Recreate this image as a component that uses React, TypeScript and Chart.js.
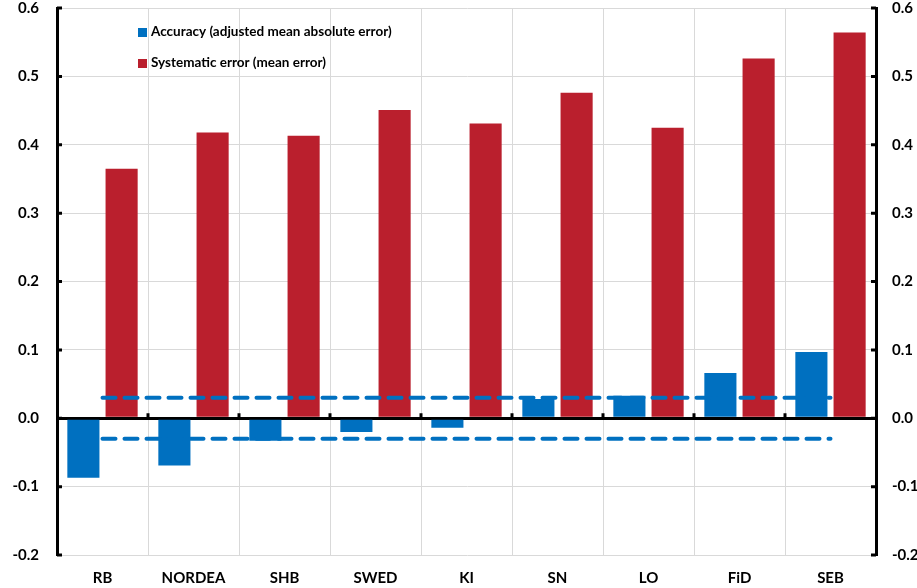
import { useEffect, useRef } from "react";
import { Chart, registerables } from "chart.js";
import type { ChartConfiguration, Plugin } from "chart.js";

Chart.register(...registerables);

const BANKS = ["RB", "NORDEA", "SHB", "SWED", "KI", "SN", "LO", "FiD", "SEB"];
const ACCURACY = [-0.087, -0.069, -0.033, -0.02, -0.014, 0.028, 0.033, 0.066, 0.097];
const SYSTEMATIC = [0.365, 0.418, 0.413, 0.451, 0.431, 0.476, 0.425, 0.526, 0.564];
const BAND_UPPER = [0.03, 0.03, 0.03, 0.03, 0.03, 0.03, 0.03, 0.03, 0.03];
const BAND_LOWER = [-0.03, -0.03, -0.03, -0.03, -0.03, -0.03, -0.03, -0.03, -0.03];
const Y_MIN = -0.2;
const Y_MAX = 0.6;

const BLUE = "#0070c0";
const RED = "#ba1f2d";
const FONT = "Lato, 'Open Sans', sans-serif";

// inward tick marks on both value axes and small ticks on the zero line
const axisTicks: Plugin = {
  id: "axisTicks",
  afterDraw(chart) {
    const { ctx, chartArea, scales } = chart;
    const y = scales.y;
    const x = scales.x;
    ctx.save();
    ctx.strokeStyle = "#000";
    ctx.lineWidth = 3;
    ctx.beginPath();
    y.ticks.forEach((t) => {
      const py = y.getPixelForValue(t.value);
      ctx.moveTo(chartArea.left, py);
      ctx.lineTo(chartArea.left + 5, py);
      ctx.moveTo(chartArea.right, py);
      ctx.lineTo(chartArea.right - 5, py);
    });
    const zero = y.getPixelForValue(0);
    for (let i = 1; i < BANKS.length; i++) {
      const px = (x.getPixelForValue(i - 1) + x.getPixelForValue(i)) / 2;
      ctx.moveTo(px, zero);
      ctx.lineTo(px, zero - 5);
    }
    ctx.stroke();
    ctx.restore();
  },
};

// legend drawn inside the plot area, bar series only
const innerLegend: Plugin = {
  id: "innerLegend",
  afterDraw(chart) {
    const { ctx, chartArea } = chart;
    const items = chart.data.datasets.filter((d: any) => d.type !== "line");
    ctx.save();
    ctx.font = `bold 13.5px ${FONT}`;
    ctx.textBaseline = "middle";
    items.forEach((d: any, i) => {
      const lx = chartArea.left + 81;
      const ly = chartArea.top + 24 + i * 31;
      ctx.fillStyle = d.backgroundColor;
      ctx.fillRect(lx, ly - 4, 9, 9);
      ctx.fillStyle = "#000";
      ctx.fillText(d.label, lx + 13, ly);
    });
    ctx.restore();
  },
};

export default function App() {
  const canvasRef = useRef<HTMLCanvasElement | null>(null);

  useEffect(() => {
    const ctx = canvasRef.current!.getContext("2d")!;
    const tickFont = { family: FONT, size: 15, weight: "bold" as const };

    const config: ChartConfiguration<any, number[], string> = {
      type: "bar",
      data: {
        labels: BANKS,
        datasets: [
          {
            type: "bar",
            label: "Accuracy (adjusted mean absolute error)",
            data: ACCURACY,
            backgroundColor: BLUE,
            categoryPercentage: 0.84,
            barPercentage: 0.84,
            order: 1,
          },
          {
            type: "bar",
            label: "Systematic error (mean error)",
            data: SYSTEMATIC,
            backgroundColor: RED,
            categoryPercentage: 0.84,
            barPercentage: 0.84,
            order: 2,
          },
          {
            type: "line",
            label: "upper",
            data: BAND_UPPER,
            borderColor: BLUE,
            borderWidth: 4,
            borderDash: [13, 9],
            borderCapStyle: "round",
            pointRadius: 0,
            order: 0,
          },
          {
            type: "line",
            label: "lower",
            data: BAND_LOWER,
            borderColor: BLUE,
            borderWidth: 4,
            borderDash: [13, 9],
            borderCapStyle: "round",
            pointRadius: 0,
            order: 0,
          },
        ],
      },
      options: {
        responsive: true,
        maintainAspectRatio: false,
        animation: false,
        layout: { autoPadding: false, padding: { top: 8 } },
        plugins: {
          legend: { display: false },
          tooltip: { enabled: false },
        },
        scales: {
          x: {
            offset: true,
            grid: { offset: true, color: "#d9d9d9", drawTicks: false, lineWidth: 1 },
            border: { display: false },
            ticks: { color: "#000", font: tickFont, padding: 14, maxRotation: 0 },
            afterFit: (s: any) => {
              s.height = 33;
              s.paddingLeft = 0;
              s.paddingRight = 0;
            },
          },
          y: {
            position: "left",
            min: Y_MIN,
            max: Y_MAX,
            ticks: {
              stepSize: 0.1,
              color: "#000",
              font: tickFont,
              padding: 18,
              callback: (v: any) => Number(v).toFixed(1),
            },
            grid: {
              drawTicks: false,
              color: (c: any) => (Math.abs(c.tick?.value ?? 1) < 1e-9 ? "#000" : "#d9d9d9"),
              lineWidth: (c: any) => (Math.abs(c.tick?.value ?? 1) < 1e-9 ? 3 : 1),
            },
            border: { display: true, color: "#000", width: 3 },
            afterFit: (s: any) => {
              s.width = 57;
              s.paddingTop = 0;
              s.paddingBottom = 0;
            },
          },
          y2: {
            position: "right",
            min: Y_MIN,
            max: Y_MAX,
            ticks: {
              stepSize: 0.1,
              color: "#000",
              font: tickFont,
              padding: 16,
              callback: (v: any) => Number(v).toFixed(1),
            },
            grid: { drawOnChartArea: false, drawTicks: false },
            border: { display: true, color: "#000", width: 3 },
            afterFit: (s: any) => {
              s.width = 41;
              s.paddingTop = 0;
              s.paddingBottom = 0;
            },
          },
        },
      },
      plugins: [axisTicks, innerLegend],
    };

    const chart = new Chart(ctx, config);
    return () => chart.destroy();
  }, []);

  return (
    <div style={{ position: "fixed", left: 0, top: 0, width: 917, height: 588, background: "#fff" }}>
      <canvas ref={canvasRef} />
    </div>
  );
}
